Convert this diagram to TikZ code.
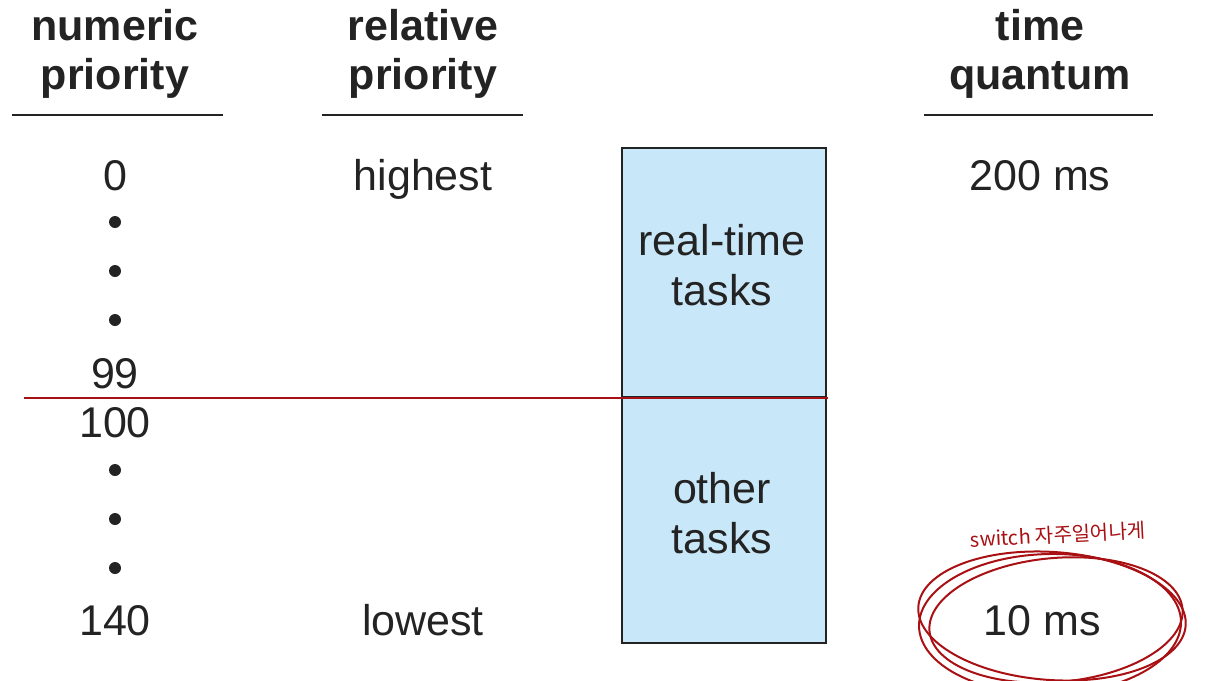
\documentclass[tikz,border=0pt]{standalone}
\usepackage{fontspec}
\setmainfont{Liberation Sans}
\newfontfamily\kofont{Noto Sans CJK KR}
\definecolor{inkgray}{RGB}{35,35,35}
\definecolor{boxblue}{RGB}{200,232,249}
\definecolor{penred}{RGB}{168,16,20}
\tikzset{
  label/.style={text=inkgray, font=\fontsize{43}{50}\selectfont, anchor=base, inner sep=0pt, align=center},
  head/.style={label, font=\fontsize{43}{49}\selectfont\bfseries},
  rule/.style={draw=inkgray, line width=1.6pt},
  dot/.style={circle, fill=inkgray, minimum size=12pt, inner sep=0pt},
  pen/.style={draw=penred, line width=2pt}
}
\begin{document}
\begin{tikzpicture}[x=1pt, y=-1pt]
  \useasboundingbox (0,0) rectangle (1225,680);
  % column heads
  \node[head] (hnum)  at (115,89)  {numeric\\priority};
  \node[head] (hrel)  at (423,89)  {relative\\priority};
  \node[head] (htime) at (1040,89) {time\\quantum};
  \draw[rule] (12,115)  -- (223,115);
  \draw[rule] (322,115) -- (523,115);
  \draw[rule] (924,115) -- (1153,115);
  % task box
  \draw[draw=inkgray, fill=boxblue, line width=1.4pt] (622,148) rectangle (826,643);
  \draw[draw=inkgray, line width=1.4pt] (622,397) -- (826,397);
  \node[label] (rt) at (722,305) {real-time\\tasks};
  \node[label] (ot) at (722,553) {other\\tasks};
  % numeric priorities
  \node[label] (p0)   at (115,190) {0};
  \node[label] (p99)  at (115,388) {99};
  \node[label] (p100) at (115,437) {100};
  \node[label] (p140) at (115,635) {140};
  \foreach \y in {222,271,320,470,519,568}
    \node[dot] at (115,\y) {};
  % relative priorities
  \node[label] (hi) at (423,190) {highest};
  \node[label] (lo) at (423,635) {lowest};
  % quanta
  \node[label] (q200) at (1040,190) {200 ms};
  \node[label] (q10)  at (1042,635) {10 ms};
  % red pen marks
  \draw[penred, line width=1.6pt] (24,398) -- (828,398);
  \draw[pen, rotate around={-4:(1052,616)}] (1052,616) ellipse [x radius=134pt, y radius=64pt];
  \draw[pen, rotate around={5:(1056,620)}] (1056,620) ellipse [x radius=127pt, y radius=62pt];
  \draw[pen, rotate around={1:(1050,624)}] (1050,624) ellipse [x radius=131pt, y radius=70pt];
  \node[text=penred, font=\fontsize{20}{20}\kofont, rotate=3, inner sep=0pt] (note) at (1058,535) {switch 자주일어나게};
\end{tikzpicture}
\end{document}
